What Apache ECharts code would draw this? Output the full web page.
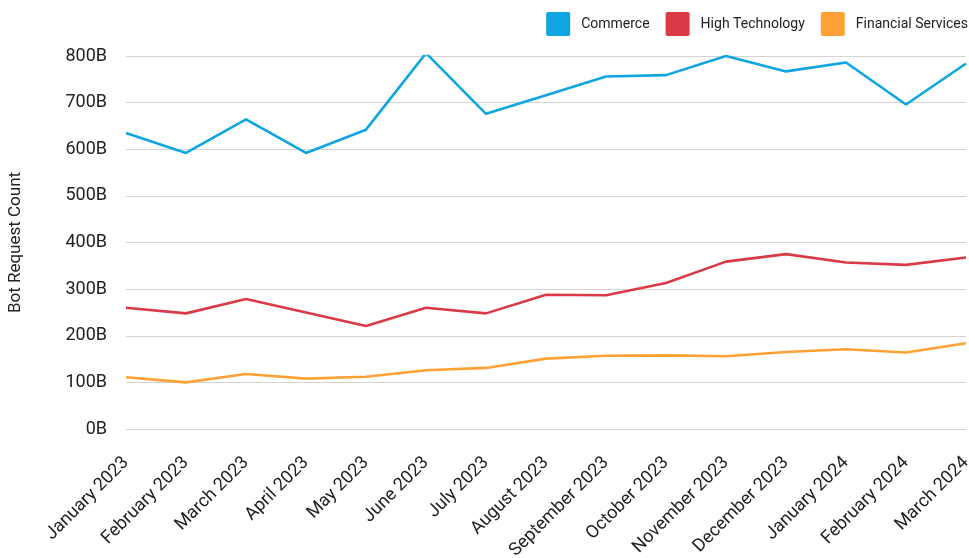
<!DOCTYPE html>
<html>
<head>
<meta charset="utf-8">
<script src="https://cdn.jsdelivr.net/npm/echarts@6/dist/echarts.min.js"></script>
<style>
html,body{margin:0;padding:0;background:#fff;}
#chart{width:969px;height:558px;}
</style>
</head>
<body>
<div id="chart"></div>
<script>
const categories = ["January 2023","February 2023","March 2023","April 2023","May 2023","June 2023","July 2023","August 2023","September 2023","October 2023","November 2023","December 2023","January 2024","February 2024","March 2024"];
const commerce = [635, 592, 664, 592, 642, 806, 676, 716, 756, 759, 800, 767, 786, 696, 784];
const highTechnology = [260, 248, 279, 250, 221, 260, 248, 288, 287, 313, 359, 375, 357, 352, 368];
const financialServices = [111, 100, 118, 108, 112, 126, 131, 151, 157, 158, 156, 165, 171, 164, 184];
const yTickValues = [0, 100, 200, 300, 400, 500, 600, 700, 800];

const chart = echarts.init(document.getElementById('chart'));
const fontFamily = 'Roboto, sans-serif';
const squareIcon = 'path://M2,0 H22 Q24,0 24,2 V22 Q24,24 22,24 H2 Q0,24 0,22 V2 Q0,0 2,0 Z';
function mk(name, data, color) {
  return {
    name: name, type: 'line', data: data, symbol: 'none',
    lineStyle: { color: color, width: 2.6 }, itemStyle: { color: color }
  };
}
chart.setOption({
  animation: false,
  textStyle: { fontFamily: fontFamily },
  legend: {
    right: 0, top: 7, padding: [5, 1, 5, 5], itemWidth: 24, itemHeight: 24, itemGap: 16,
    icon: squareIcon,
    textStyle: { fontSize: 14, color: '#222', fontFamily: fontFamily, padding: [0, 0, 0, 6] },
    data: ['Commerce', 'High Technology', 'Financial Services']
  },
  grid: { left: 126, right: 3, top: 56, bottom: 129, containLabel: false, outerBoundsMode: 'none' },
  xAxis: {
    type: 'category', data: categories, boundaryGap: false,
    axisLine: { show: false }, axisTick: { show: false },
    axisLabel: { rotate: 45, fontSize: 18, color: '#222', margin: 31, interval: 0, fontFamily: fontFamily }
  },
  yAxis: {
    type: 'value', min: yTickValues[0], max: yTickValues[yTickValues.length - 1], interval: 100,
    name: 'Bot Request Count', nameLocation: 'middle', nameGap: 102, nameRotate: 90,
    nameTextStyle: { fontSize: 17, color: '#222', fontFamily: fontFamily },
    axisLine: { show: false }, axisTick: { show: false },
    axisLabel: { fontSize: 18, color: '#222', margin: 19, formatter: v => v + 'B', fontFamily: fontFamily },
    splitLine: { lineStyle: { color: '#d4d4d4', width: 1 } }
  },
  series: [
    mk('Commerce', commerce, '#0ea5e0'),
    mk('High Technology', highTechnology, '#d93a45'),
    mk('Financial Services', financialServices, '#ffa235')
  ]
});
</script>
</body>
</html>
